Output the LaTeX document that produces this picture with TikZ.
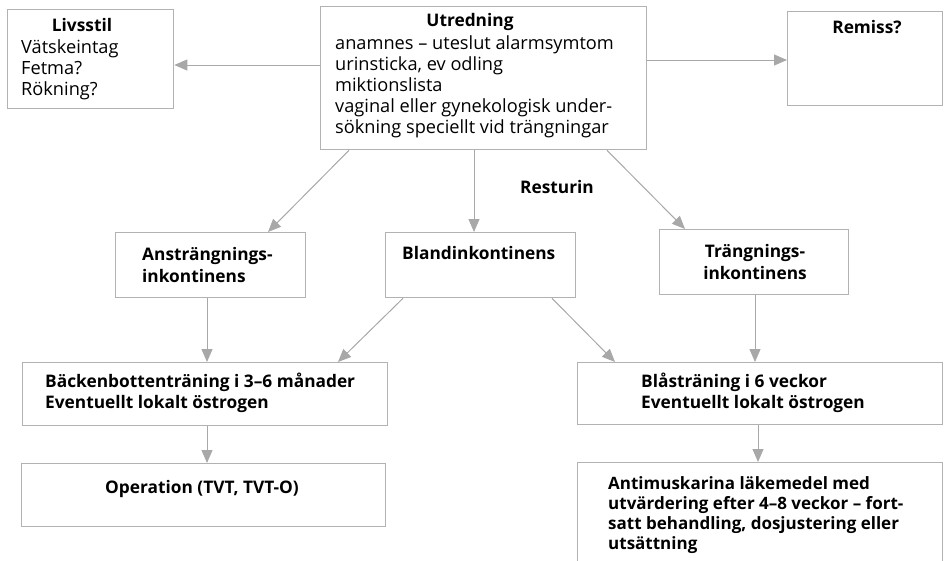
\documentclass[tikz,border=0pt]{standalone}
\usepackage{fontspec}
\setmainfont{Open Sans}
\usetikzlibrary{arrows.meta,calc}
\definecolor{boxgray}{RGB}{178,178,178}
\definecolor{arrgray}{RGB}{168,168,168}
\tikzset{
  box/.style={draw=boxgray, line width=1.3pt, inner sep=0pt, anchor=north west, rectangle},
  arr/.style={draw=arrgray, line width=1pt, -{Triangle[length=13pt,width=11pt]}},
  txt/.style={inner sep=0pt, font=\fontsize{18.2}{21}\selectfont, align=left},
  btxt/.style={txt, font=\fontsize{17.3}{21.5}\selectfont\bfseries},
}
\begin{document}
\begin{tikzpicture}[x=1pt,y=-1pt]
\useasboundingbox (0,0) rectangle (944,560);
\clip (0,0) rectangle (944,560);
% boxes
\node[box, minimum width=166pt, minimum height=99pt] (liv) at (7,9) {};
\node[box, minimum width=326pt, minimum height=143pt] (utr) at (320,6) {};
\node[box, minimum width=155pt, minimum height=94pt] (rem) at (787,11) {};
\node[box, minimum width=190pt, minimum height=65pt] (ans) at (115,232) {};
\node[box, minimum width=190pt, minimum height=65pt] (bla) at (385,232) {};
\node[box, minimum width=189pt, minimum height=65pt] (tra) at (659,229) {};
\node[box, minimum width=365pt, minimum height=63pt] (back) at (22,362) {};
\node[box, minimum width=365pt, minimum height=62pt] (bls) at (577,362) {};
\node[box, minimum width=364pt, minimum height=63pt] (op) at (21,463) {};
\node[box, minimum width=365pt, minimum height=110pt] (anti) at (577,462) {};
% texts
\node[btxt, anchor=center] (tliv) at (82,25) {Livsstil};
\node[txt, anchor=west] (tliv2) at (21,70) {Vätskeintag\\Fetma?\\Rökning?};
\node[btxt, anchor=center] (tutr) at (470,22) {Utredning};
\node[txt, anchor=west] (tutr2) at (335,87) {anamnes – uteslut alarmsymtom\\urinsticka, ev odling\\miktionslista\\vaginal eller gynekologisk under-\\sökning speciellt vid trängningar};
\node[btxt, anchor=center] (trem) at (867,27) {Remiss?};
\node[btxt, anchor=center] (tres) at (557,187) {Resturin};
\node[btxt, anchor=west] (tans) at (142,265) {Ansträngnings-\\inkontinens};
\node[btxt, anchor=west] (tbla) at (402,253) {Blandinkontinens};
\node[btxt, anchor=center, align=center] (ttra) at (755,262) {Trängnings-\\inkontinens};
\node[btxt, anchor=west] (tback) at (45,393) {Bäckenbottenträning i 3–6 månader\\Eventuellt lokalt östrogen};
\node[btxt, anchor=west] (tbls) at (641,393) {Blåsträning i 6 veckor\\Eventuellt lokalt östrogen};
\node[btxt, anchor=center] (top) at (202,489) {Operation (TVT, TVT-O)};
\node[btxt, anchor=north west, font=\fontsize{17}{20}\selectfont\bfseries] (tanti) at (608,476) {Antimuskarina läkemedel med\\utvärdering efter 4–8 veckor – fort-\\satt behandling, dosjustering eller\\utsättning};
% arrows
\draw[arr] (utr.west |- {$(liv.north east)+(0,56)$}) -- ($(liv.north east)+(0,56)$);
\draw[arr] (utr.east |- {$(rem.north west)+(0,49)$}) -- ($(rem.north west)+(0,49)$);
\draw[arr] ($(utr.south west)+(29,0)$) -- ($(ans.north west)+(153,0)$);
\draw[arr] ($(utr.south west)+(154,0)$) -- ($(bla.north west)+(89,0)$);
\draw[arr] ($(utr.south west)+(287,0)$) -- ($(tra.north west)+(26,0)$);
\draw[arr] ($(ans.south west)+(92,0)$) -- ($(back.north west)+(185,0)$);
\draw[arr] ($(bla.south west)+(18,0)$) -- ($(back.north west)+(316,0)$);
\draw[arr] ($(bla.south west)+(167,0)$) -- ($(bls.north west)+(38,0)$);
\draw[arr] ($(tra.south west)+(96,0)$) -- ($(bls.north west)+(178,0)$);
\draw[arr] ($(back.south west)+(185,0)$) -- ($(op.north west)+(186,0)$);
\draw[arr] ($(bls.south west)+(181,0)$) -- ($(anti.north west)+(181,0)$);
\end{tikzpicture}
\end{document}
